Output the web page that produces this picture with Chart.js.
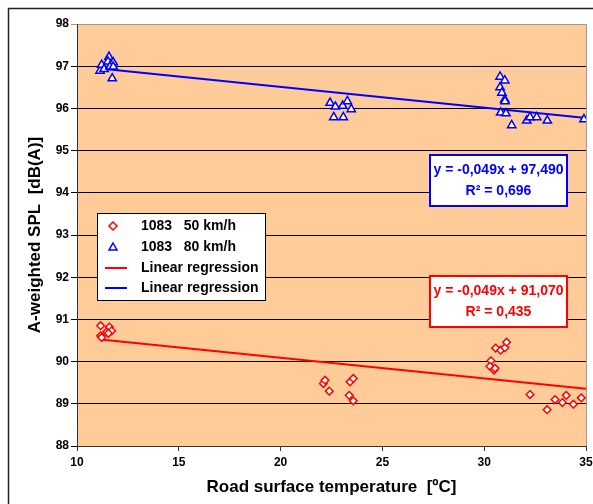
<!DOCTYPE html>
<html>
<head>
<meta charset="utf-8">
<script src="https://cdn.jsdelivr.net/npm/chart.js@4/dist/chart.umd.min.js"></script>
<style>
  html, body { margin: 0; padding: 0; background: #fff; }
  canvas { display: block; }
</style>
</head>
<body>
<canvas id="grafik" width="593" height="504"></canvas>
<script>
// Data
const suhu50 = [11.16, 11.59, 11.70, 11.46, 11.54, 11.16, 11.21,
  22.10, 22.18, 22.39, 23.41, 23.57, 23.37, 23.57,
  30.33, 30.28, 30.48, 30.53, 30.56, 30.81, 31.02, 31.10,
  32.25, 33.09, 33.48, 33.84, 34.03, 34.38, 34.77];
const spl50 = [90.85, 90.82, 90.73, 90.70, 90.67, 90.61, 90.57,
  89.48, 89.56, 89.30, 89.52, 89.60, 89.20, 89.07,
  90.02, 89.89, 89.80, 89.84, 90.32, 90.27, 90.33, 90.46,
  89.22, 88.86, 89.10, 89.03, 89.20, 88.99, 89.14];

const suhu80 = [11.13, 11.21, 11.57, 11.52, 11.78, 11.73, 11.33, 11.62, 11.78,
  22.43, 22.69, 23.05, 23.28, 23.47, 22.61, 23.08,
  30.78, 31.01, 30.78, 30.87, 31.01, 31.02, 30.81, 31.07, 31.35,
  32.09, 32.25, 32.58, 33.10, 34.90];
const spl80 = [96.89, 97.03, 97.22, 97.11, 97.09, 96.71, 96.93, 96.99, 96.99,
  96.13, 96.04, 96.06, 96.17, 95.98, 95.79, 95.79,
  96.75, 96.66, 96.50, 96.37, 96.21, 96.17, 95.90, 95.88, 95.60,
  95.71, 95.79, 95.79, 95.71, 95.74];

// Garis regresi (titik ujung)
const regresi50X = [11.16, 35];
const regresi50Y = [90.523, 89.355];
const regresi80X = [11.13, 35];
const regresi80Y = [96.945, 95.775];

const persamaan50 = ['y = -0,049x + 91,070', 'R² = 0,435'];
const persamaan80 = ['y = -0,049x + 97,490', 'R² = 0,696'];

const labelLegenda = ['1083   50 km/h', '1083   80 km/h', 'Linear regression', 'Linear regression'];

const FONT = '"Liberation Sans", Arial, sans-serif';
const MERAH = '#FF0000';
const BIRU = '#0000FF';

function gabung(xs, ys) {
  return xs.map((x, i) => ({ x: x, y: ys[i] }));
}

// Plugin: latar plot, bingkai luar, legenda dan kotak persamaan
const dekorasi = {
  id: 'dekorasi',
  beforeDraw(chart) {
    const { ctx, chartArea: a } = chart;
    ctx.save();
    ctx.fillStyle = '#FFCC99';
    ctx.fillRect(a.left, a.top, a.right - a.left, a.bottom - a.top);
    ctx.strokeStyle = '#999';
    ctx.lineWidth = 1;
    ctx.beginPath();
    ctx.moveTo(a.left, a.top + 0.5);
    ctx.lineTo(a.right + 0.5, a.top + 0.5);
    ctx.lineTo(a.right + 0.5, a.bottom);
    ctx.stroke();
    // bingkai luar
    ctx.strokeStyle = '#222';
    ctx.lineWidth = 1.5;
    ctx.beginPath();
    ctx.moveTo(8.5, 504);
    ctx.lineTo(8.5, 8.5);
    ctx.lineTo(593, 8.5);
    ctx.stroke();
    ctx.restore();
  },
  afterDraw(chart) {
    const { ctx } = chart;
    ctx.save();

    // legenda
    ctx.fillStyle = '#fff';
    ctx.fillRect(97, 213, 168, 87);
    ctx.strokeStyle = '#000';
    ctx.lineWidth = 1;
    ctx.strokeRect(97.5, 213.5, 168, 87);
    const barisY = [226, 247, 268, 288];
    ctx.font = 'bold 14px ' + FONT;
    ctx.textBaseline = 'middle';
    ctx.textAlign = 'left';
    ctx.fillStyle = '#000';
    labelLegenda.forEach((t, i) => ctx.fillText(t, 141, barisY[i]));
    ctx.fillStyle = '#fff';
    ctx.strokeStyle = MERAH;
    ctx.lineWidth = 1.5;
    ctx.beginPath();
    ctx.moveTo(113, barisY[0] - 4);
    ctx.lineTo(117, barisY[0]);
    ctx.lineTo(113, barisY[0] + 4);
    ctx.lineTo(109, barisY[0]);
    ctx.closePath();
    ctx.fill(); ctx.stroke();
    ctx.strokeStyle = BIRU;
    ctx.beginPath();
    ctx.moveTo(113, barisY[1] - 4);
    ctx.lineTo(117, barisY[1] + 3);
    ctx.lineTo(109, barisY[1] + 3);
    ctx.closePath();
    ctx.fill(); ctx.stroke();
    ctx.lineWidth = 2;
    ctx.strokeStyle = MERAH;
    ctx.beginPath(); ctx.moveTo(105, barisY[2]); ctx.lineTo(127, barisY[2]); ctx.stroke();
    ctx.strokeStyle = BIRU;
    ctx.beginPath(); ctx.moveTo(105, barisY[3]); ctx.lineTo(127, barisY[3]); ctx.stroke();

    // kotak persamaan
    function kotak(x, y, w, h, warna, teks) {
      ctx.fillStyle = '#fff';
      ctx.fillRect(x, y, w, h);
      ctx.strokeStyle = warna;
      ctx.lineWidth = 2;
      ctx.strokeRect(x, y, w, h);
      ctx.fillStyle = warna;
      ctx.font = 'bold 14px ' + FONT;
      ctx.textAlign = 'center';
      ctx.textBaseline = 'middle';
      ctx.fillText(teks[0], x + w / 2, y + 15);
      ctx.fillText(teks[1], x + w / 2, y + 36);
    }
    kotak(430, 155, 137, 51, BIRU, persamaan80);
    kotak(430, 276, 137, 51, MERAH, persamaan50);
    ctx.restore();
  }
};

const ctx = document.getElementById('grafik').getContext('2d');
const grafik = new Chart(ctx, {
  type: 'scatter',
  data: {
    datasets: [
      {
        label: labelLegenda[0],
        data: gabung(suhu50, spl50),
        pointStyle: 'rectRot',
        pointRadius: 3.8,
        pointBorderWidth: 1.5,
        pointBackgroundColor: '#fff',
        pointBorderColor: MERAH,
        showLine: false
      },
      {
        label: labelLegenda[1],
        data: gabung(suhu80, spl80),
        pointStyle: 'triangle',
        pointRadius: 4.8,
        pointBorderWidth: 1.5,
        pointBackgroundColor: '#fff',
        pointBorderColor: BIRU,
        showLine: false
      },
      {
        label: labelLegenda[2],
        data: gabung(regresi50X, regresi50Y),
        showLine: true,
        borderColor: MERAH,
        borderWidth: 2,
        pointRadius: 0
      },
      {
        label: labelLegenda[3],
        data: gabung(regresi80X, regresi80Y),
        showLine: true,
        borderColor: BIRU,
        borderWidth: 2,
        pointRadius: 0
      }
    ]
  },
  options: {
    responsive: false,
    animation: false,
    devicePixelRatio: 1,
    layout: { padding: { top: 24, right: 7, left: 0, bottom: 0 } },
    plugins: {
      legend: { display: false },
      tooltip: { enabled: false }
    },
    scales: {
      x: {
        type: 'linear',
        min: 10,
        max: 35,
        afterFit: (s) => { s.height = 58; s.paddingLeft = 0; s.paddingRight = 7; },
        ticks: {
          stepSize: 5,
          padding: 4,
          color: '#000',
          font: { family: FONT, size: 12, weight: 'bold' }
        },
        grid: { drawOnChartArea: false, drawTicks: true, tickLength: 5, color: '#333' },
        border: { color: '#333', width: 1 },
        title: {
          display: true,
          text: 'Road surface temperature  [ºC]',
          color: '#000',
          font: { family: FONT, size: 17, weight: 'bold' },
          padding: { top: 0, bottom: 6 }
        }
      },
      y: {
        type: 'linear',
        min: 88,
        max: 98,
        afterFit: (s) => { s.width = 77; s.paddingTop = 0; s.paddingBottom = 0; },
        ticks: {
          stepSize: 1,
          padding: 2,
          color: '#000',
          font: { family: FONT, size: 12, weight: 'bold' }
        },
        grid: {
          color: (c) => (c.tick && c.tick.value === 98 ? '#999' : '#000'),
          tickLength: 6,
          lineWidth: 1
        },
        border: { color: '#333', width: 1 },
        title: {
          display: true,
          text: 'A-weighted SPL  [dB(A)]',
          color: '#000',
          font: { family: FONT, size: 17, weight: 'bold' },
          padding: { top: 25, bottom: 0 }
        }
      }
    }
  },
  plugins: [dekorasi]
});
</script>
</body>
</html>
